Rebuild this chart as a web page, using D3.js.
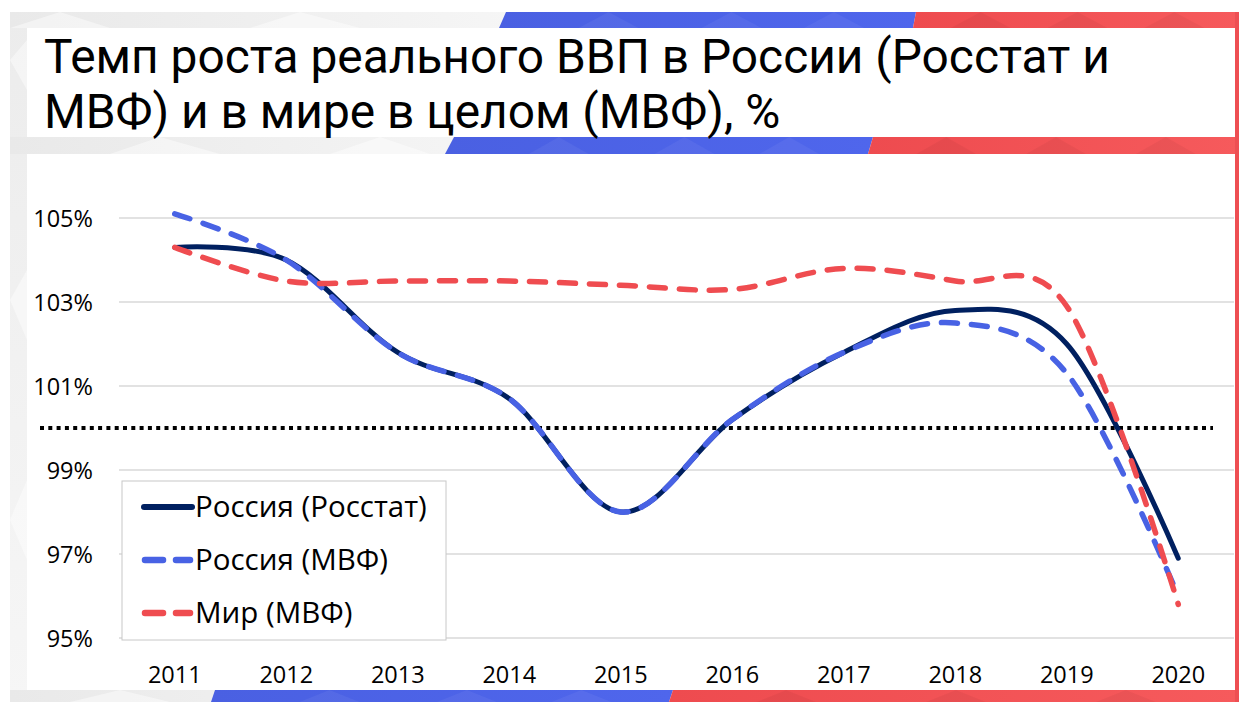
<!DOCTYPE html>
<html>
<head>
<meta charset="utf-8">
<script src="https://cdn.jsdelivr.net/npm/d3@7"></script>
<style>
html,body{margin:0;padding:0;background:#ffffff;overflow:hidden}
svg{display:block}
</style>
</head>
<body>
<svg id="chart" width="1239" height="702"></svg>
<script>
// ---------------- data ----------------
const years = ["2011","2012","2013","2014","2015","2016","2017","2018","2019","2020"];
const rosstat   = [104.3, 104.0, 101.8, 100.7, 98.0, 100.2, 101.8, 102.8, 102.0, 96.9];
const imfRussia = [105.1, 104.0, 101.8, 100.7, 98.0, 100.2, 101.8, 102.5, 101.3, 96.0];
const imfWorld  = [104.3, 103.5, 103.5, 103.5, 103.4, 103.3, 103.8, 103.5, 102.9, 95.8];
const yTicks = [95, 97, 99, 101, 103, 105];
const yTickLabels = ["95%", "97%", "99%", "101%", "103%", "105%"];
const baselineValue = [100];
const seriesNames = ["Россия (Росстат)", "Россия (МВФ)", "Мир (МВФ)"];
const titleLines = ["Темп роста реального ВВП в России (Росстат и", "МВФ) и в мире в целом (МВФ), %"];

// ---------------- styles ----------------
const NAVY = "#002060", BLUE = "#4862E4", RED = "#EF4C50";
const seriesStyle = [
  {color: NAVY, width: 5, dash: null},
  {color: BLUE, width: 5.5, dash: "16 14"},
  {color: RED,  width: 5.5, dash: "16 14"}
];
const seriesData = [rosstat, imfRussia, imfWorld];

const svg = d3.select("#chart");
const W = 1239, H = 702;

// ---------------- decorative frame ----------------
const defs = svg.append("defs");
const gGray = defs.append("linearGradient").attr("id","gGray").attr("x1","0").attr("y1","0").attr("x2","1").attr("y2","0");
gGray.append("stop").attr("offset","0").attr("stop-color","#e9e9e9");
gGray.append("stop").attr("offset","0.45").attr("stop-color","#f7f7f7");
gGray.append("stop").attr("offset","1").attr("stop-color","#f4f4f4");
const gLeft = defs.append("linearGradient").attr("id","gLeft").attr("x1","0").attr("y1","0").attr("x2","0").attr("y2","1");
gLeft.append("stop").attr("offset","0").attr("stop-color","#ececec");
gLeft.append("stop").attr("offset","1").attr("stop-color","#f6f6f6");
const gBlue = defs.append("linearGradient").attr("id","gBlue").attr("x1","0").attr("y1","0").attr("x2","1").attr("y2","0");
gBlue.append("stop").attr("offset","0").attr("stop-color","#4a60e2");
gBlue.append("stop").attr("offset","1").attr("stop-color","#4f66ec");
const gRed = defs.append("linearGradient").attr("id","gRed").attr("x1","0").attr("y1","0").attr("x2","1").attr("y2","0");
gRed.append("stop").attr("offset","0").attr("stop-color","#ee4b4f");
gRed.append("stop").attr("offset","1").attr("stop-color","#f65a5c");

const deco = svg.append("g");
deco.append("rect").attr("x",10).attr("y",12).attr("width",W-10).attr("height",H-12).attr("fill","url(#gLeft)");
deco.append("rect").attr("x",10).attr("y",12).attr("width",W-10).attr("height",16).attr("fill","url(#gGray)");
deco.append("rect").attr("x",10).attr("y",137).attr("width",W-10).attr("height",17).attr("fill","url(#gGray)");
deco.append("rect").attr("x",10).attr("y",690).attr("width",W-10).attr("height",12).attr("fill","url(#gGray)");
const facets = [
  [[10,60],[27,40],[27,90]], [[10,300],[27,270],[27,340]], [[10,520],[27,480],[27,560]],
  [[60,12],[110,28],[10,28]], [[160,137],[220,154],[110,154]], [[300,12],[360,28],[250,28]],
  [[120,690],[170,702],[70,702]], [[380,137],[430,154],[330,154]]
];
deco.selectAll(".facet").data(facets).enter().append("polygon")
  .attr("points", d => d.map(p => p.join(",")).join(" "))
  .attr("fill", "#ffffff").attr("opacity", 0.45);

function strip(y0, y1, bx0t, bx0b, rx0t, rx0b) {
  deco.append("polygon").attr("points", `${bx0t},${y0} ${rx0t},${y0} ${rx0b},${y1} ${bx0b},${y1}`).attr("fill","url(#gBlue)");
  deco.append("polygon").attr("points", `${rx0t},${y0} ${W},${y0} ${W},${y1} ${rx0b},${y1}`).attr("fill","url(#gRed)");
  const span = rx0t - bx0t;
  [0.25, 0.55, 0.8].forEach(f => {
    const x = bx0t + span * f;
    deco.append("polygon").attr("points", `${x},${y0} ${x+30},${y1} ${x-30},${y1}`).attr("fill","#ffffff").attr("opacity",0.05);
  });
  const rspan = W - rx0t;
  [0.2, 0.5, 0.8].forEach(f => {
    const x = rx0t + rspan * f;
    deco.append("polygon").attr("points", `${x},${y0} ${x+30},${y1} ${x-30},${y1}`).attr("fill","#000000").attr("opacity",0.04);
  });
}
strip(12, 28, 506, 499, 916, 913);
strip(137, 154, 454, 445, 873, 868);
strip(690, 702, 215, 211, 673, 669);
deco.append("rect").attr("x",1235).attr("y",12).attr("width",4).attr("height",H-12).attr("fill","#ee4f53");

// white panels
deco.append("rect").attr("x",27).attr("y",28).attr("width",1235-27).attr("height",137-28).attr("fill","#ffffff");
deco.append("rect").attr("x",27).attr("y",154).attr("width",1235-27).attr("height",690-154).attr("fill","#ffffff");

// ---------------- title ----------------
const title = svg.append("g");
const t1 = title.append("text").attr("x",44).attr("y",73).text(titleLines[0])
  .attr("font-family","Roboto, 'Noto Sans', sans-serif").attr("font-size",47).attr("fill","#000");
const t2 = title.append("text").attr("x",44).attr("y",128).text(titleLines[1])
  .attr("font-family","Roboto, 'Noto Sans', sans-serif").attr("font-size",47).attr("fill","#000");
const w1 = t1.node().getComputedTextLength();
const fs = 47 * 1066 / w1;
t1.attr("font-size", fs); t2.attr("font-size", fs);

// ---------------- scales ----------------
const x = d3.scaleBand().domain(years).range([119, 1234]).paddingInner(0).paddingOuter(0);
const cx = d => x(d) + x.bandwidth() / 2;
const y = d3.scaleLinear().domain([95, 105]).range([638, 218]);

// gridlines
const grid = svg.append("g");
grid.selectAll("line").data(yTicks).enter().append("line")
  .attr("x1", 119).attr("x2", 1234)
  .attr("y1", d => y(d)).attr("y2", d => y(d))
  .attr("stroke", "#d9d9d9").attr("stroke-width", 1.3);

// axes
const FONT = "'Open Sans', 'Noto Sans', sans-serif";
const yAxis = d3.axisLeft(y).tickValues(yTicks).tickFormat((d, i) => yTickLabels[i]).tickSize(0).tickPadding(0);
const ya = svg.append("g").attr("transform", "translate(93,0)").call(yAxis);
ya.select(".domain").remove();
ya.selectAll("text").attr("font-family", FONT).attr("font-size", 23.5).attr("fill", "#000").attr("dy", "0.36em");

const xAxis = d3.axisBottom(x).tickSize(0).tickPadding(0);
const xa = svg.append("g").attr("transform", "translate(0,666)").call(xAxis);
xa.select(".domain").remove();
xa.selectAll("text").attr("font-family", FONT).attr("font-size", 23.5).attr("fill", "#000").attr("dy", "0.72em");

// dotted 100% line
svg.append("g").selectAll("line").data(baselineValue).enter().append("line")
  .attr("x1", 40).attr("x2", 1213)
  .attr("y1", d => y(d)).attr("y2", d => y(d))
  .attr("stroke", "#000").attr("stroke-width", 4).attr("stroke-dasharray", "4 4.3");

// series (Excel-like smoothing: uniform Catmull-Rom)
const line = d3.line().x((d, i) => cx(years[i])).y(d => y(d)).curve(d3.curveCardinal.tension(0));
const lines = svg.append("g");
seriesData.forEach((s, i) => {
  const st = seriesStyle[i];
  lines.append("path").datum(s).attr("d", line)
    .attr("fill", "none").attr("stroke", st.color).attr("stroke-width", st.width)
    .attr("stroke-linecap", "round").attr("stroke-linejoin", "round")
    .attr("stroke-dasharray", st.dash);
});

// legend
const lg = svg.append("g");
lg.append("rect").attr("x", 122).attr("y", 481).attr("width", 324).attr("height", 159)
  .attr("fill", "#fff").attr("stroke", "#c8c8c8").attr("stroke-width", 1);
const ly = [507, 560, 613];
seriesNames.forEach((name, i) => {
  const st = seriesStyle[i];
  if (st.dash) {
    lg.append("line").attr("x1", 145).attr("x2", 163).attr("y1", ly[i]).attr("y2", ly[i])
      .attr("stroke", st.color).attr("stroke-width", st.width + 1).attr("stroke-linecap", "round");
    lg.append("line").attr("x1", 176).attr("x2", 190).attr("y1", ly[i]).attr("y2", ly[i])
      .attr("stroke", st.color).attr("stroke-width", st.width + 1).attr("stroke-linecap", "round");
  } else {
    lg.append("line").attr("x1", 144).attr("x2", 192).attr("y1", ly[i]).attr("y2", ly[i])
      .attr("stroke", st.color).attr("stroke-width", st.width + 1).attr("stroke-linecap", "round");
  }
  lg.append("text").attr("x", 195).attr("y", ly[i] + 10).text(name)
    .attr("font-family", FONT).attr("font-size", 29.5).attr("fill", "#000");
});
</script>
</body>
</html>
